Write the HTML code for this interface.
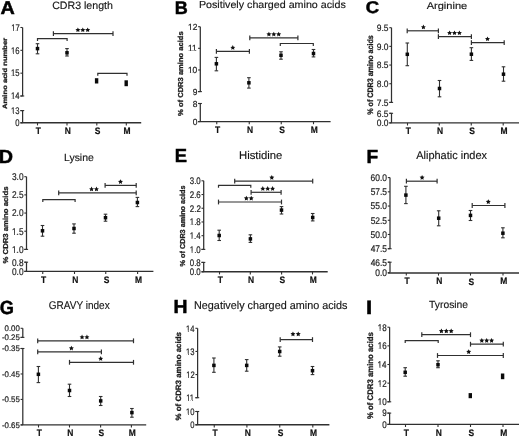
<!DOCTYPE html>
<html><head><meta charset="utf-8"><title>CDR3 amino acid composition</title>
<style>
html,body{margin:0;padding:0;background:#fff;}
body{width:520px;height:437px;overflow:hidden;}
svg{display:block;font-family:"Liberation Sans", sans-serif;text-rendering:geometricPrecision;will-change:transform;}
</style></head><body>
<svg width="520" height="437" viewBox="0 0 520 437">
<rect width="520" height="437" fill="#fff"/>
<text transform="translate(0.51 13.75) scale(1.066 1)" font-size="18.53" font-weight="bold" fill="#000" stroke="#000" stroke-width="0.5">A</text>
<text transform="translate(52.16 9.15) scale(0.987 1)" font-size="10.76" font-weight="normal" fill="#151515" stroke="#151515" stroke-width="0.15">CDR3 length</text>
<text transform="translate(6.9 108.89) rotate(-90) scale(1.227 1)" font-size="6.21" font-weight="bold" fill="#1e1e1e" stroke="#1e1e1e" stroke-width="0.3">Amino acid number</text>
<line x1="22.6" y1="27.5" x2="22.6" y2="96" stroke="#303030" stroke-width="1.25"/>
<line x1="22.6" y1="110.6" x2="22.6" y2="122.8" stroke="#303030" stroke-width="1.25"/>
<line x1="20.4" y1="96" x2="24.2" y2="96" stroke="#303030" stroke-width="1.1"/>
<line x1="20.4" y1="110.6" x2="24.2" y2="110.6" stroke="#303030" stroke-width="1.1"/>
<line x1="20.4" y1="27.5" x2="22.6" y2="27.5" stroke="#303030" stroke-width="1.1"/>
<g transform="translate(11.14 30.8) scale(0.800 1)"><text font-size="9.60" fill="#222" stroke="#222" stroke-width="0.2">17</text><g fill="#fff"><rect x="0" y="-1.06" width="2.37" height="1.76"/><rect x="3.3" y="-1.06" width="1.88" height="1.76"/></g></g>
<line x1="20.4" y1="50.33" x2="22.6" y2="50.33" stroke="#303030" stroke-width="1.1"/>
<g transform="translate(11.1 53.68) scale(0.800 1)"><text font-size="9.60" fill="#222" stroke="#222" stroke-width="0.2">16</text><g fill="#fff"><rect x="0" y="-1.06" width="2.37" height="1.76"/><rect x="3.3" y="-1.06" width="1.88" height="1.76"/></g></g>
<line x1="20.4" y1="73.17" x2="22.6" y2="73.17" stroke="#303030" stroke-width="1.1"/>
<g transform="translate(11.08 76.47) scale(0.800 1)"><text font-size="9.60" fill="#222" stroke="#222" stroke-width="0.2">15</text><g fill="#fff"><rect x="0" y="-1.06" width="2.37" height="1.76"/><rect x="3.3" y="-1.06" width="1.88" height="1.76"/></g></g>
<line x1="20.4" y1="96" x2="22.6" y2="96" stroke="#303030" stroke-width="1.1"/>
<g transform="translate(10.98 99.3) scale(0.800 1)"><text font-size="9.60" fill="#222" stroke="#222" stroke-width="0.2">14</text><g fill="#fff"><rect x="0" y="-1.06" width="2.37" height="1.76"/><rect x="3.3" y="-1.06" width="1.88" height="1.76"/></g></g>
<line x1="20.4" y1="110.6" x2="22.6" y2="110.6" stroke="#303030" stroke-width="1.1"/>
<g transform="translate(11.1 113.95) scale(0.800 1)"><text font-size="9.60" fill="#222" stroke="#222" stroke-width="0.2">13</text><g fill="#fff"><rect x="0" y="-1.06" width="2.37" height="1.76"/><rect x="3.3" y="-1.06" width="1.88" height="1.76"/></g></g>
<line x1="20.4" y1="122.8" x2="22.6" y2="122.8" stroke="#303030" stroke-width="1.1"/>
<text transform="translate(15.33 126.15) scale(0.800 1)" font-size="9.60" fill="#222" stroke="#222" stroke-width="0.2">0</text>
<line x1="20.4" y1="122.8" x2="141.2" y2="122.8" stroke="#303030" stroke-width="1.4"/>
<line x1="37.5" y1="122.8" x2="37.5" y2="125.4" stroke="#303030" stroke-width="1.1"/>
<text transform="translate(35.71 134.27) scale(0.900 1)" font-size="9.40" font-weight="bold" fill="#111" stroke="#111" stroke-width="0.2">T</text>
<line x1="67" y1="122.8" x2="67" y2="125.4" stroke="#303030" stroke-width="1.1"/>
<text transform="translate(64.75 134.27) scale(0.900 1)" font-size="9.40" font-weight="bold" fill="#111" stroke="#111" stroke-width="0.2">N</text>
<line x1="96.8" y1="122.8" x2="96.8" y2="125.4" stroke="#303030" stroke-width="1.1"/>
<text transform="translate(94.82 134.36) scale(0.900 1)" font-size="9.40" font-weight="bold" fill="#111" stroke="#111" stroke-width="0.2">S</text>
<line x1="126.3" y1="122.8" x2="126.3" y2="125.4" stroke="#303030" stroke-width="1.1"/>
<text transform="translate(123.58 134.27) scale(0.900 1)" font-size="9.40" font-weight="bold" fill="#111" stroke="#111" stroke-width="0.2">M</text>
<line x1="37.5" y1="43.7" x2="37.5" y2="53.8" stroke="#303030" stroke-width="1.1"/>
<line x1="35.7" y1="43.7" x2="39.3" y2="43.7" stroke="#303030" stroke-width="1.1"/>
<line x1="35.7" y1="53.8" x2="39.3" y2="53.8" stroke="#303030" stroke-width="1.1"/>
<rect x="35.75" y="46.85" width="3.5" height="3.5" fill="#0a0a0a"/>
<line x1="67" y1="48.6" x2="67" y2="56" stroke="#303030" stroke-width="1.1"/>
<line x1="65.2" y1="48.6" x2="68.8" y2="48.6" stroke="#303030" stroke-width="1.1"/>
<line x1="65.2" y1="56" x2="68.8" y2="56" stroke="#303030" stroke-width="1.1"/>
<rect x="65.25" y="51.05" width="3.5" height="3.5" fill="#0a0a0a"/>
<rect x="94.9" y="78.2" width="3.4" height="5.3" fill="#0a0a0a"/>
<rect x="124.5" y="80.3" width="3.4" height="5.9" fill="#0a0a0a"/>
<path d="M37.5 41V38.6H67.1V41" fill="none" stroke="#303030" stroke-width="1.2"/>
<line x1="53.4" y1="33.6" x2="113" y2="33.6" stroke="#303030" stroke-width="1.2"/>
<line x1="53.4" y1="31.2" x2="53.4" y2="36" stroke="#303030" stroke-width="1.2"/>
<line x1="113" y1="31.2" x2="113" y2="36" stroke="#303030" stroke-width="1.2"/>
<path d="M77.90,27.40 L78.66,28.94 L80.37,29.19 L79.14,30.40 L79.43,32.10 L77.90,31.30 L76.37,32.10 L76.66,30.40 L75.43,29.19 L77.14,28.94ZM82.80,27.40 L83.56,28.94 L85.27,29.19 L84.04,30.40 L84.33,32.10 L82.80,31.30 L81.27,32.10 L81.56,30.40 L80.33,29.19 L82.04,28.94ZM87.70,27.40 L88.46,28.94 L90.17,29.19 L88.94,30.40 L89.23,32.10 L87.70,31.30 L86.17,32.10 L86.46,30.40 L85.23,29.19 L86.94,28.94Z" fill="#111"/>
<path d="M97.8 75.8V73.4H127V75.8" fill="none" stroke="#303030" stroke-width="1.2"/>
<text transform="translate(174.79 13.75) scale(0.993 1)" font-size="18.17" font-weight="bold" fill="#000" stroke="#000" stroke-width="0.5">B</text>
<text transform="translate(198.92 8.4) scale(1.048 1)" font-size="10.21" font-weight="normal" fill="#151515" stroke="#151515" stroke-width="0.15">Positively charged amino acids</text>
<text transform="translate(183.2 115.89) rotate(-90) scale(1.055 1)" font-size="7.18" font-weight="bold" fill="#1e1e1e" stroke="#1e1e1e" stroke-width="0.3">% of CDR3 amino acids</text>
<line x1="200.3" y1="26.7" x2="200.3" y2="91.6" stroke="#303030" stroke-width="1.25"/>
<line x1="200.3" y1="103.5" x2="200.3" y2="121.6" stroke="#303030" stroke-width="1.25"/>
<line x1="198.1" y1="91.6" x2="201.9" y2="91.6" stroke="#303030" stroke-width="1.1"/>
<line x1="198.1" y1="103.5" x2="201.9" y2="103.5" stroke="#303030" stroke-width="1.1"/>
<line x1="198.1" y1="26.7" x2="200.3" y2="26.7" stroke="#303030" stroke-width="1.1"/>
<g transform="translate(188.02 29.81) scale(0.950 1)"><text font-size="8.90" fill="#222" stroke="#222" stroke-width="0.2">12</text><g fill="#fff"><rect x="0" y="-1" width="2.2" height="1.7"/><rect x="3.06" y="-1" width="1.74" height="1.7"/></g></g>
<line x1="198.1" y1="48.33" x2="200.3" y2="48.33" stroke="#303030" stroke-width="1.1"/>
<g transform="translate(188.01 51.39) scale(0.950 1)"><text font-size="8.90" fill="#222" stroke="#222" stroke-width="0.2">11</text><g fill="#fff"><rect x="0" y="-1" width="2.2" height="1.7"/><rect x="3.06" y="-1" width="1.74" height="1.7"/><rect x="4.95" y="-1" width="2.2" height="1.7"/><rect x="8.01" y="-1" width="1.74" height="1.7"/></g></g>
<line x1="198.1" y1="69.97" x2="200.3" y2="69.97" stroke="#303030" stroke-width="1.1"/>
<g transform="translate(187.93 73.07) scale(0.950 1)"><text font-size="8.90" fill="#222" stroke="#222" stroke-width="0.2">10</text><g fill="#fff"><rect x="0" y="-1" width="2.2" height="1.7"/><rect x="3.06" y="-1" width="1.74" height="1.7"/></g></g>
<line x1="198.1" y1="91.6" x2="200.3" y2="91.6" stroke="#303030" stroke-width="1.1"/>
<text transform="translate(192.7 94.71) scale(0.950 1)" font-size="8.90" fill="#222" stroke="#222" stroke-width="0.2">9</text>
<line x1="198.1" y1="103.5" x2="200.3" y2="103.5" stroke="#303030" stroke-width="1.1"/>
<text transform="translate(192.67 106.61) scale(0.950 1)" font-size="8.90" fill="#222" stroke="#222" stroke-width="0.2">8</text>
<line x1="198.1" y1="121.6" x2="200.3" y2="121.6" stroke="#303030" stroke-width="1.1"/>
<text transform="translate(192.63 124.71) scale(0.950 1)" font-size="8.90" fill="#222" stroke="#222" stroke-width="0.2">0</text>
<line x1="198.1" y1="121.6" x2="330.6" y2="121.6" stroke="#303030" stroke-width="1.4"/>
<line x1="216.75" y1="121.6" x2="216.75" y2="124.2" stroke="#303030" stroke-width="1.1"/>
<text transform="translate(214.96 133.07) scale(0.900 1)" font-size="9.40" font-weight="bold" fill="#111" stroke="#111" stroke-width="0.2">T</text>
<line x1="249.25" y1="121.6" x2="249.25" y2="124.2" stroke="#303030" stroke-width="1.1"/>
<text transform="translate(247 133.07) scale(0.900 1)" font-size="9.40" font-weight="bold" fill="#111" stroke="#111" stroke-width="0.2">N</text>
<line x1="281.25" y1="121.6" x2="281.25" y2="124.2" stroke="#303030" stroke-width="1.1"/>
<text transform="translate(279.27 133.16) scale(0.900 1)" font-size="9.40" font-weight="bold" fill="#111" stroke="#111" stroke-width="0.2">S</text>
<line x1="313.5" y1="121.6" x2="313.5" y2="124.2" stroke="#303030" stroke-width="1.1"/>
<text transform="translate(310.78 133.07) scale(0.900 1)" font-size="9.40" font-weight="bold" fill="#111" stroke="#111" stroke-width="0.2">M</text>
<line x1="216.4" y1="57.4" x2="216.4" y2="70.8" stroke="#303030" stroke-width="1.1"/>
<line x1="214.6" y1="57.4" x2="218.2" y2="57.4" stroke="#303030" stroke-width="1.1"/>
<line x1="214.6" y1="70.8" x2="218.2" y2="70.8" stroke="#303030" stroke-width="1.1"/>
<rect x="214.65" y="62.05" width="3.5" height="3.5" fill="#0a0a0a"/>
<line x1="248.9" y1="77.7" x2="248.9" y2="88.1" stroke="#303030" stroke-width="1.1"/>
<line x1="247.1" y1="77.7" x2="250.7" y2="77.7" stroke="#303030" stroke-width="1.1"/>
<line x1="247.1" y1="88.1" x2="250.7" y2="88.1" stroke="#303030" stroke-width="1.1"/>
<rect x="247.15" y="81.05" width="3.5" height="3.5" fill="#0a0a0a"/>
<line x1="281" y1="51.8" x2="281" y2="59.2" stroke="#303030" stroke-width="1.1"/>
<line x1="279.2" y1="51.8" x2="282.8" y2="51.8" stroke="#303030" stroke-width="1.1"/>
<line x1="279.2" y1="59.2" x2="282.8" y2="59.2" stroke="#303030" stroke-width="1.1"/>
<rect x="279.25" y="53.55" width="3.5" height="3.5" fill="#0a0a0a"/>
<line x1="313.5" y1="49.5" x2="313.5" y2="56.9" stroke="#303030" stroke-width="1.1"/>
<line x1="311.7" y1="49.5" x2="315.3" y2="49.5" stroke="#303030" stroke-width="1.1"/>
<line x1="311.7" y1="56.9" x2="315.3" y2="56.9" stroke="#303030" stroke-width="1.1"/>
<rect x="311.75" y="51.75" width="3.5" height="3.5" fill="#0a0a0a"/>
<line x1="216.4" y1="51.3" x2="249.4" y2="51.3" stroke="#303030" stroke-width="1.2"/>
<line x1="216.4" y1="48.9" x2="216.4" y2="53.7" stroke="#303030" stroke-width="1.2"/>
<line x1="249.4" y1="48.9" x2="249.4" y2="53.7" stroke="#303030" stroke-width="1.2"/>
<path d="M232.80,45.10 L233.56,46.64 L235.27,46.89 L234.04,48.10 L234.33,49.80 L232.80,49.00 L231.27,49.80 L231.56,48.10 L230.33,46.89 L232.04,46.64Z" fill="#111"/>
<line x1="249.8" y1="37.9" x2="297.9" y2="37.9" stroke="#303030" stroke-width="1.2"/>
<line x1="249.8" y1="35.5" x2="249.8" y2="40.3" stroke="#303030" stroke-width="1.2"/>
<line x1="297.9" y1="35.5" x2="297.9" y2="40.3" stroke="#303030" stroke-width="1.2"/>
<path d="M268.90,31.70 L269.66,33.24 L271.37,33.49 L270.14,34.70 L270.43,36.40 L268.90,35.60 L267.37,36.40 L267.66,34.70 L266.43,33.49 L268.14,33.24ZM273.80,31.70 L274.56,33.24 L276.27,33.49 L275.04,34.70 L275.33,36.40 L273.80,35.60 L272.27,36.40 L272.56,34.70 L271.33,33.49 L273.04,33.24ZM278.70,31.70 L279.46,33.24 L281.17,33.49 L279.94,34.70 L280.23,36.40 L278.70,35.60 L277.17,36.40 L277.46,34.70 L276.23,33.49 L277.94,33.24Z" fill="#111"/>
<path d="M280.3 45.9V43.5H313.3V45.9" fill="none" stroke="#303030" stroke-width="1.2"/>
<text transform="translate(365.84 13.43) scale(1.092 1)" font-size="16.95" font-weight="bold" fill="#000" stroke="#000" stroke-width="0.5">C</text>
<text transform="translate(426.68 9.2) scale(1.127 1)" font-size="9.80" font-weight="normal" fill="#151515" stroke="#151515" stroke-width="0.15">Arginine</text>
<text transform="translate(372.7 114.78) rotate(-90) scale(0.891 1)" font-size="8.00" font-weight="bold" fill="#1e1e1e" stroke="#1e1e1e" stroke-width="0.3">% of CDR3 amino acids</text>
<line x1="391.5" y1="27.7" x2="391.5" y2="102.4" stroke="#303030" stroke-width="1.25"/>
<line x1="391.5" y1="113.3" x2="391.5" y2="122.9" stroke="#303030" stroke-width="1.25"/>
<line x1="389.3" y1="102.4" x2="393.1" y2="102.4" stroke="#303030" stroke-width="1.1"/>
<line x1="389.3" y1="113.3" x2="393.1" y2="113.3" stroke="#303030" stroke-width="1.1"/>
<line x1="389.3" y1="27.7" x2="391.5" y2="27.7" stroke="#303030" stroke-width="1.1"/>
<text transform="translate(376.79 30.91) scale(0.920 1)" font-size="9.20" fill="#222" stroke="#222" stroke-width="0.2">9.5</text>
<line x1="389.3" y1="46.38" x2="391.5" y2="46.38" stroke="#303030" stroke-width="1.1"/>
<text transform="translate(376.76 49.59) scale(0.920 1)" font-size="9.20" fill="#222" stroke="#222" stroke-width="0.2">9.0</text>
<line x1="389.3" y1="65.05" x2="391.5" y2="65.05" stroke="#303030" stroke-width="1.1"/>
<text transform="translate(376.79 68.26) scale(0.920 1)" font-size="9.20" fill="#222" stroke="#222" stroke-width="0.2">8.5</text>
<line x1="389.3" y1="83.73" x2="391.5" y2="83.73" stroke="#303030" stroke-width="1.1"/>
<text transform="translate(376.76 86.94) scale(0.920 1)" font-size="9.20" fill="#222" stroke="#222" stroke-width="0.2">8.0</text>
<line x1="389.3" y1="102.4" x2="391.5" y2="102.4" stroke="#303030" stroke-width="1.1"/>
<text transform="translate(376.79 105.56) scale(0.920 1)" font-size="9.20" fill="#222" stroke="#222" stroke-width="0.2">7.5</text>
<line x1="389.3" y1="113.3" x2="391.5" y2="113.3" stroke="#303030" stroke-width="1.1"/>
<text transform="translate(376.79 116.51) scale(0.920 1)" font-size="9.20" fill="#222" stroke="#222" stroke-width="0.2">6.5</text>
<line x1="389.3" y1="122.9" x2="391.5" y2="122.9" stroke="#303030" stroke-width="1.1"/>
<text transform="translate(376.76 126.11) scale(0.920 1)" font-size="9.20" fill="#222" stroke="#222" stroke-width="0.2">0.0</text>
<line x1="389.3" y1="122.9" x2="519" y2="122.9" stroke="#303030" stroke-width="1.4"/>
<line x1="407.5" y1="122.9" x2="407.5" y2="125.5" stroke="#303030" stroke-width="1.1"/>
<text transform="translate(405.71 134.37) scale(0.900 1)" font-size="9.40" font-weight="bold" fill="#111" stroke="#111" stroke-width="0.2">T</text>
<line x1="439.25" y1="122.9" x2="439.25" y2="125.5" stroke="#303030" stroke-width="1.1"/>
<text transform="translate(437 134.37) scale(0.900 1)" font-size="9.40" font-weight="bold" fill="#111" stroke="#111" stroke-width="0.2">N</text>
<line x1="471.25" y1="122.9" x2="471.25" y2="125.5" stroke="#303030" stroke-width="1.1"/>
<text transform="translate(469.27 134.46) scale(0.900 1)" font-size="9.40" font-weight="bold" fill="#111" stroke="#111" stroke-width="0.2">S</text>
<line x1="503.2" y1="122.9" x2="503.2" y2="125.5" stroke="#303030" stroke-width="1.1"/>
<text transform="translate(500.48 134.37) scale(0.900 1)" font-size="9.40" font-weight="bold" fill="#111" stroke="#111" stroke-width="0.2">M</text>
<line x1="407.3" y1="43" x2="407.3" y2="65.7" stroke="#303030" stroke-width="1.1"/>
<line x1="405.5" y1="43" x2="409.1" y2="43" stroke="#303030" stroke-width="1.1"/>
<line x1="405.5" y1="65.7" x2="409.1" y2="65.7" stroke="#303030" stroke-width="1.1"/>
<rect x="405.55" y="52.55" width="3.5" height="3.5" fill="#0a0a0a"/>
<line x1="439.5" y1="80.5" x2="439.5" y2="96.8" stroke="#303030" stroke-width="1.1"/>
<line x1="437.7" y1="80.5" x2="441.3" y2="80.5" stroke="#303030" stroke-width="1.1"/>
<line x1="437.7" y1="96.8" x2="441.3" y2="96.8" stroke="#303030" stroke-width="1.1"/>
<rect x="437.75" y="86.75" width="3.5" height="3.5" fill="#0a0a0a"/>
<line x1="471.4" y1="47.7" x2="471.4" y2="60.4" stroke="#303030" stroke-width="1.1"/>
<line x1="469.6" y1="47.7" x2="473.2" y2="47.7" stroke="#303030" stroke-width="1.1"/>
<line x1="469.6" y1="60.4" x2="473.2" y2="60.4" stroke="#303030" stroke-width="1.1"/>
<rect x="469.65" y="52.45" width="3.5" height="3.5" fill="#0a0a0a"/>
<line x1="503.5" y1="66.8" x2="503.5" y2="81.2" stroke="#303030" stroke-width="1.1"/>
<line x1="501.7" y1="66.8" x2="505.3" y2="66.8" stroke="#303030" stroke-width="1.1"/>
<line x1="501.7" y1="81.2" x2="505.3" y2="81.2" stroke="#303030" stroke-width="1.1"/>
<rect x="501.75" y="72.45" width="3.5" height="3.5" fill="#0a0a0a"/>
<line x1="407.2" y1="30.8" x2="438.4" y2="30.8" stroke="#303030" stroke-width="1.2"/>
<line x1="407.2" y1="28.4" x2="407.2" y2="33.2" stroke="#303030" stroke-width="1.2"/>
<line x1="438.4" y1="28.4" x2="438.4" y2="33.2" stroke="#303030" stroke-width="1.2"/>
<path d="M423.40,24.60 L424.16,26.14 L425.87,26.39 L424.64,27.60 L424.93,29.30 L423.40,28.50 L421.87,29.30 L422.16,27.60 L420.93,26.39 L422.64,26.14Z" fill="#111"/>
<line x1="438.4" y1="36.6" x2="471.4" y2="36.6" stroke="#303030" stroke-width="1.2"/>
<line x1="438.4" y1="34.2" x2="438.4" y2="39" stroke="#303030" stroke-width="1.2"/>
<line x1="471.4" y1="34.2" x2="471.4" y2="39" stroke="#303030" stroke-width="1.2"/>
<path d="M449.60,30.40 L450.36,31.94 L452.07,32.19 L450.84,33.40 L451.13,35.10 L449.60,34.30 L448.07,35.10 L448.36,33.40 L447.13,32.19 L448.84,31.94ZM454.50,30.40 L455.26,31.94 L456.97,32.19 L455.74,33.40 L456.03,35.10 L454.50,34.30 L452.97,35.10 L453.26,33.40 L452.03,32.19 L453.74,31.94ZM459.40,30.40 L460.16,31.94 L461.87,32.19 L460.64,33.40 L460.93,35.10 L459.40,34.30 L457.87,35.10 L458.16,33.40 L456.93,32.19 L458.64,31.94Z" fill="#111"/>
<line x1="471.4" y1="42.6" x2="504.2" y2="42.6" stroke="#303030" stroke-width="1.2"/>
<line x1="471.4" y1="40.2" x2="471.4" y2="45" stroke="#303030" stroke-width="1.2"/>
<line x1="504.2" y1="40.2" x2="504.2" y2="45" stroke="#303030" stroke-width="1.2"/>
<path d="M487.50,36.40 L488.26,37.94 L489.97,38.19 L488.74,39.40 L489.03,41.10 L487.50,40.30 L485.97,41.10 L486.26,39.40 L485.03,38.19 L486.74,37.94Z" fill="#111"/>
<text transform="translate(-1.32 163) scale(1.044 1)" font-size="18.90" font-weight="bold" fill="#000" stroke="#000" stroke-width="0.5">D</text>
<text transform="translate(63.94 160.7) scale(1.014 1)" font-size="10.35" font-weight="normal" fill="#151515" stroke="#151515" stroke-width="0.15">Lysine</text>
<text transform="translate(7.6 263.39) rotate(-90) scale(1.077 1)" font-size="7.18" font-weight="bold" fill="#1e1e1e" stroke="#1e1e1e" stroke-width="0.3">% CDR3 amino acids</text>
<line x1="26.5" y1="176.7" x2="26.5" y2="249.4" stroke="#303030" stroke-width="1.25"/>
<line x1="26.5" y1="262.2" x2="26.5" y2="271.4" stroke="#303030" stroke-width="1.25"/>
<line x1="24.3" y1="249.4" x2="28.1" y2="249.4" stroke="#303030" stroke-width="1.1"/>
<line x1="24.3" y1="262.2" x2="28.1" y2="262.2" stroke="#303030" stroke-width="1.1"/>
<line x1="24.3" y1="176.7" x2="26.5" y2="176.7" stroke="#303030" stroke-width="1.1"/>
<text transform="translate(11.95 180.12) scale(0.850 1)" font-size="9.80" fill="#222" stroke="#222" stroke-width="0.2">3.0</text>
<line x1="24.3" y1="194.88" x2="26.5" y2="194.88" stroke="#303030" stroke-width="1.1"/>
<text transform="translate(11.97 198.3) scale(0.850 1)" font-size="9.80" fill="#222" stroke="#222" stroke-width="0.2">2.5</text>
<line x1="24.3" y1="213.05" x2="26.5" y2="213.05" stroke="#303030" stroke-width="1.1"/>
<text transform="translate(11.95 216.47) scale(0.850 1)" font-size="9.80" fill="#222" stroke="#222" stroke-width="0.2">2.0</text>
<line x1="24.3" y1="231.22" x2="26.5" y2="231.22" stroke="#303030" stroke-width="1.1"/>
<g transform="translate(11.97 234.6) scale(0.850 1)"><text font-size="9.80" fill="#222" stroke="#222" stroke-width="0.2">1.5</text><g fill="#fff"><rect x="0" y="-1.08" width="2.42" height="1.78"/><rect x="3.37" y="-1.08" width="1.92" height="1.78"/></g></g>
<line x1="24.3" y1="249.4" x2="26.5" y2="249.4" stroke="#303030" stroke-width="1.1"/>
<g transform="translate(11.95 252.82) scale(0.850 1)"><text font-size="9.80" fill="#222" stroke="#222" stroke-width="0.2">1.0</text><g fill="#fff"><rect x="0" y="-1.08" width="2.42" height="1.78"/><rect x="3.37" y="-1.08" width="1.92" height="1.78"/></g></g>
<line x1="24.3" y1="262.2" x2="26.5" y2="262.2" stroke="#303030" stroke-width="1.1"/>
<text transform="translate(11.98 265.62) scale(0.850 1)" font-size="9.80" fill="#222" stroke="#222" stroke-width="0.2">0.8</text>
<line x1="24.3" y1="271.4" x2="26.5" y2="271.4" stroke="#303030" stroke-width="1.1"/>
<text transform="translate(11.95 274.82) scale(0.850 1)" font-size="9.80" fill="#222" stroke="#222" stroke-width="0.2">0.0</text>
<line x1="24.3" y1="271.4" x2="153.4" y2="271.4" stroke="#303030" stroke-width="1.4"/>
<line x1="42.75" y1="271.4" x2="42.75" y2="274" stroke="#303030" stroke-width="1.1"/>
<text transform="translate(40.96 282.87) scale(0.900 1)" font-size="9.40" font-weight="bold" fill="#111" stroke="#111" stroke-width="0.2">T</text>
<line x1="74.5" y1="271.4" x2="74.5" y2="274" stroke="#303030" stroke-width="1.1"/>
<text transform="translate(72.25 282.87) scale(0.900 1)" font-size="9.40" font-weight="bold" fill="#111" stroke="#111" stroke-width="0.2">N</text>
<line x1="105.75" y1="271.4" x2="105.75" y2="274" stroke="#303030" stroke-width="1.1"/>
<text transform="translate(103.77 282.96) scale(0.900 1)" font-size="9.40" font-weight="bold" fill="#111" stroke="#111" stroke-width="0.2">S</text>
<line x1="137.6" y1="271.4" x2="137.6" y2="274" stroke="#303030" stroke-width="1.1"/>
<text transform="translate(134.88 282.87) scale(0.900 1)" font-size="9.40" font-weight="bold" fill="#111" stroke="#111" stroke-width="0.2">M</text>
<line x1="42.5" y1="225.5" x2="42.5" y2="236.2" stroke="#303030" stroke-width="1.1"/>
<line x1="40.7" y1="225.5" x2="44.3" y2="225.5" stroke="#303030" stroke-width="1.1"/>
<line x1="40.7" y1="236.2" x2="44.3" y2="236.2" stroke="#303030" stroke-width="1.1"/>
<rect x="40.75" y="229.05" width="3.5" height="3.5" fill="#0a0a0a"/>
<line x1="74" y1="223.9" x2="74" y2="233.2" stroke="#303030" stroke-width="1.1"/>
<line x1="72.2" y1="223.9" x2="75.8" y2="223.9" stroke="#303030" stroke-width="1.1"/>
<line x1="72.2" y1="233.2" x2="75.8" y2="233.2" stroke="#303030" stroke-width="1.1"/>
<rect x="72.25" y="226.75" width="3.5" height="3.5" fill="#0a0a0a"/>
<line x1="105.5" y1="214.2" x2="105.5" y2="221.2" stroke="#303030" stroke-width="1.1"/>
<line x1="103.7" y1="214.2" x2="107.3" y2="214.2" stroke="#303030" stroke-width="1.1"/>
<line x1="103.7" y1="221.2" x2="107.3" y2="221.2" stroke="#303030" stroke-width="1.1"/>
<rect x="103.75" y="215.95" width="3.5" height="3.5" fill="#0a0a0a"/>
<line x1="137.4" y1="197.4" x2="137.4" y2="206.6" stroke="#303030" stroke-width="1.1"/>
<line x1="135.6" y1="197.4" x2="139.2" y2="197.4" stroke="#303030" stroke-width="1.1"/>
<line x1="135.6" y1="206.6" x2="139.2" y2="206.6" stroke="#303030" stroke-width="1.1"/>
<rect x="135.65" y="200.75" width="3.5" height="3.5" fill="#0a0a0a"/>
<path d="M42.8 202.1V199.7H75.1V202.1" fill="none" stroke="#303030" stroke-width="1.2"/>
<line x1="58.7" y1="192.8" x2="136.2" y2="192.8" stroke="#303030" stroke-width="1.2"/>
<line x1="58.7" y1="190.4" x2="58.7" y2="195.2" stroke="#303030" stroke-width="1.2"/>
<line x1="136.2" y1="190.4" x2="136.2" y2="195.2" stroke="#303030" stroke-width="1.2"/>
<path d="M91.55,186.60 L92.31,188.14 L94.02,188.39 L92.79,189.60 L93.08,191.30 L91.55,190.50 L90.02,191.30 L90.31,189.60 L89.08,188.39 L90.79,188.14ZM96.45,186.60 L97.21,188.14 L98.92,188.39 L97.69,189.60 L97.98,191.30 L96.45,190.50 L94.92,191.30 L95.21,189.60 L93.98,188.39 L95.69,188.14Z" fill="#111"/>
<line x1="105.1" y1="185.4" x2="136.2" y2="185.4" stroke="#303030" stroke-width="1.2"/>
<line x1="105.1" y1="183" x2="105.1" y2="187.8" stroke="#303030" stroke-width="1.2"/>
<line x1="136.2" y1="183" x2="136.2" y2="187.8" stroke="#303030" stroke-width="1.2"/>
<path d="M120.50,179.20 L121.26,180.74 L122.97,180.99 L121.74,182.20 L122.03,183.90 L120.50,183.10 L118.97,183.90 L119.26,182.20 L118.03,180.99 L119.74,180.74Z" fill="#111"/>
<text transform="translate(174.67 162.2) scale(0.972 1)" font-size="18.90" font-weight="bold" fill="#000" stroke="#000" stroke-width="0.5">E</text>
<text transform="translate(238.97 158.8) scale(1.013 1)" font-size="11.18" font-weight="normal" fill="#151515" stroke="#151515" stroke-width="0.15">Histidine</text>
<text transform="translate(185.4 266.38) rotate(-90) scale(1.010 1)" font-size="7.18" font-weight="bold" fill="#1e1e1e" stroke="#1e1e1e" stroke-width="0.3">% of CDR3 amino acids</text>
<line x1="203.7" y1="180.8" x2="203.7" y2="249.4" stroke="#303030" stroke-width="1.25"/>
<line x1="203.7" y1="262.4" x2="203.7" y2="271.8" stroke="#303030" stroke-width="1.25"/>
<line x1="201.5" y1="249.4" x2="205.3" y2="249.4" stroke="#303030" stroke-width="1.1"/>
<line x1="201.5" y1="262.4" x2="205.3" y2="262.4" stroke="#303030" stroke-width="1.1"/>
<line x1="201.5" y1="180.8" x2="203.7" y2="180.8" stroke="#303030" stroke-width="1.1"/>
<text transform="translate(189.75 184.12) scale(0.830 1)" font-size="9.50" fill="#222" stroke="#222" stroke-width="0.2">3.0</text>
<line x1="201.5" y1="194.52" x2="203.7" y2="194.52" stroke="#303030" stroke-width="1.1"/>
<text transform="translate(189.79 197.84) scale(0.830 1)" font-size="9.50" fill="#222" stroke="#222" stroke-width="0.2">2.6</text>
<line x1="201.5" y1="208.24" x2="203.7" y2="208.24" stroke="#303030" stroke-width="1.1"/>
<text transform="translate(189.84 211.56) scale(0.830 1)" font-size="9.50" fill="#222" stroke="#222" stroke-width="0.2">2.2</text>
<line x1="201.5" y1="221.96" x2="203.7" y2="221.96" stroke="#303030" stroke-width="1.1"/>
<g transform="translate(189.78 225.28) scale(0.830 1)"><text font-size="9.50" fill="#222" stroke="#222" stroke-width="0.2">1.8</text><g fill="#fff"><rect x="0" y="-1.05" width="2.35" height="1.75"/><rect x="3.27" y="-1.05" width="1.86" height="1.75"/></g></g>
<line x1="201.5" y1="235.68" x2="203.7" y2="235.68" stroke="#303030" stroke-width="1.1"/>
<g transform="translate(189.67 238.95) scale(0.830 1)"><text font-size="9.50" fill="#222" stroke="#222" stroke-width="0.2">1.4</text><g fill="#fff"><rect x="0" y="-1.05" width="2.35" height="1.75"/><rect x="3.27" y="-1.05" width="1.86" height="1.75"/></g></g>
<line x1="201.5" y1="249.4" x2="203.7" y2="249.4" stroke="#303030" stroke-width="1.1"/>
<g transform="translate(189.75 252.72) scale(0.830 1)"><text font-size="9.50" fill="#222" stroke="#222" stroke-width="0.2">1.0</text><g fill="#fff"><rect x="0" y="-1.05" width="2.35" height="1.75"/><rect x="3.27" y="-1.05" width="1.86" height="1.75"/></g></g>
<line x1="201.5" y1="262.4" x2="203.7" y2="262.4" stroke="#303030" stroke-width="1.1"/>
<text transform="translate(189.78 265.72) scale(0.830 1)" font-size="9.50" fill="#222" stroke="#222" stroke-width="0.2">0.8</text>
<line x1="201.5" y1="271.8" x2="203.7" y2="271.8" stroke="#303030" stroke-width="1.1"/>
<text transform="translate(189.75 275.12) scale(0.830 1)" font-size="9.50" fill="#222" stroke="#222" stroke-width="0.2">0.0</text>
<line x1="201.5" y1="271.8" x2="327.7" y2="271.8" stroke="#303030" stroke-width="1.4"/>
<line x1="219.5" y1="271.8" x2="219.5" y2="274.4" stroke="#303030" stroke-width="1.1"/>
<text transform="translate(217.71 283.27) scale(0.900 1)" font-size="9.40" font-weight="bold" fill="#111" stroke="#111" stroke-width="0.2">T</text>
<line x1="250.3" y1="271.8" x2="250.3" y2="274.4" stroke="#303030" stroke-width="1.1"/>
<text transform="translate(248.05 283.27) scale(0.900 1)" font-size="9.40" font-weight="bold" fill="#111" stroke="#111" stroke-width="0.2">N</text>
<line x1="281.6" y1="271.8" x2="281.6" y2="274.4" stroke="#303030" stroke-width="1.1"/>
<text transform="translate(279.62 283.36) scale(0.900 1)" font-size="9.40" font-weight="bold" fill="#111" stroke="#111" stroke-width="0.2">S</text>
<line x1="312.5" y1="271.8" x2="312.5" y2="274.4" stroke="#303030" stroke-width="1.1"/>
<text transform="translate(309.78 283.27) scale(0.900 1)" font-size="9.40" font-weight="bold" fill="#111" stroke="#111" stroke-width="0.2">M</text>
<line x1="219.2" y1="230.2" x2="219.2" y2="240.5" stroke="#303030" stroke-width="1.1"/>
<line x1="217.4" y1="230.2" x2="221" y2="230.2" stroke="#303030" stroke-width="1.1"/>
<line x1="217.4" y1="240.5" x2="221" y2="240.5" stroke="#303030" stroke-width="1.1"/>
<rect x="217.45" y="233.75" width="3.5" height="3.5" fill="#0a0a0a"/>
<line x1="250.4" y1="234.8" x2="250.4" y2="242.4" stroke="#303030" stroke-width="1.1"/>
<line x1="248.6" y1="234.8" x2="252.2" y2="234.8" stroke="#303030" stroke-width="1.1"/>
<line x1="248.6" y1="242.4" x2="252.2" y2="242.4" stroke="#303030" stroke-width="1.1"/>
<rect x="248.65" y="237.15" width="3.5" height="3.5" fill="#0a0a0a"/>
<line x1="281.5" y1="206.6" x2="281.5" y2="214" stroke="#303030" stroke-width="1.1"/>
<line x1="279.7" y1="206.6" x2="283.3" y2="206.6" stroke="#303030" stroke-width="1.1"/>
<line x1="279.7" y1="214" x2="283.3" y2="214" stroke="#303030" stroke-width="1.1"/>
<rect x="279.75" y="208.35" width="3.5" height="3.5" fill="#0a0a0a"/>
<line x1="312.7" y1="213.5" x2="312.7" y2="220.9" stroke="#303030" stroke-width="1.1"/>
<line x1="310.9" y1="213.5" x2="314.5" y2="213.5" stroke="#303030" stroke-width="1.1"/>
<line x1="310.9" y1="220.9" x2="314.5" y2="220.9" stroke="#303030" stroke-width="1.1"/>
<rect x="310.95" y="215.75" width="3.5" height="3.5" fill="#0a0a0a"/>
<path d="M218.5 187.8V185.4H250.8V187.8" fill="none" stroke="#303030" stroke-width="1.2"/>
<line x1="234.7" y1="181.2" x2="312.7" y2="181.2" stroke="#303030" stroke-width="1.2"/>
<line x1="234.7" y1="178.8" x2="234.7" y2="183.6" stroke="#303030" stroke-width="1.2"/>
<line x1="312.7" y1="178.8" x2="312.7" y2="183.6" stroke="#303030" stroke-width="1.2"/>
<path d="M271.80,175.00 L272.56,176.54 L274.27,176.79 L273.04,178.00 L273.33,179.70 L271.80,178.90 L270.27,179.70 L270.56,178.00 L269.33,176.79 L271.04,176.54Z" fill="#111"/>
<line x1="251.1" y1="192.3" x2="281.1" y2="192.3" stroke="#303030" stroke-width="1.2"/>
<line x1="251.1" y1="189.9" x2="251.1" y2="194.7" stroke="#303030" stroke-width="1.2"/>
<line x1="281.1" y1="189.9" x2="281.1" y2="194.7" stroke="#303030" stroke-width="1.2"/>
<path d="M262.80,186.10 L263.56,187.64 L265.27,187.89 L264.04,189.10 L264.33,190.80 L262.80,190.00 L261.27,190.80 L261.56,189.10 L260.33,187.89 L262.04,187.64ZM267.70,186.10 L268.46,187.64 L270.17,187.89 L268.94,189.10 L269.23,190.80 L267.70,190.00 L266.17,190.80 L266.46,189.10 L265.23,187.89 L266.94,187.64ZM272.60,186.10 L273.36,187.64 L275.07,187.89 L273.84,189.10 L274.13,190.80 L272.60,190.00 L271.07,190.80 L271.36,189.10 L270.13,187.89 L271.84,187.64Z" fill="#111"/>
<line x1="218.5" y1="202" x2="281.5" y2="202" stroke="#303030" stroke-width="1.2"/>
<line x1="218.5" y1="199.6" x2="218.5" y2="204.4" stroke="#303030" stroke-width="1.2"/>
<line x1="281.5" y1="199.6" x2="281.5" y2="204.4" stroke="#303030" stroke-width="1.2"/>
<path d="M246.35,195.80 L247.11,197.34 L248.82,197.59 L247.59,198.80 L247.88,200.50 L246.35,199.70 L244.82,200.50 L245.11,198.80 L243.88,197.59 L245.59,197.34ZM251.25,195.80 L252.01,197.34 L253.72,197.59 L252.49,198.80 L252.78,200.50 L251.25,199.70 L249.72,200.50 L250.01,198.80 L248.78,197.59 L250.49,197.34Z" fill="#111"/>
<text transform="translate(366.42 163.2) scale(1.004 1)" font-size="19.04" font-weight="bold" fill="#000" stroke="#000" stroke-width="0.5">F</text>
<text transform="translate(416.18 158.5) scale(0.971 1)" font-size="11.32" font-weight="normal" fill="#151515" stroke="#151515" stroke-width="0.15">Aliphatic index</text>
<line x1="390" y1="177.6" x2="390" y2="248.7" stroke="#303030" stroke-width="1.25"/>
<line x1="390" y1="262.2" x2="390" y2="272.6" stroke="#303030" stroke-width="1.25"/>
<line x1="387.8" y1="248.7" x2="391.6" y2="248.7" stroke="#303030" stroke-width="1.1"/>
<line x1="387.8" y1="262.2" x2="391.6" y2="262.2" stroke="#303030" stroke-width="1.1"/>
<line x1="387.8" y1="177.6" x2="390" y2="177.6" stroke="#303030" stroke-width="1.1"/>
<text transform="translate(370.6 180.99) scale(0.870 1)" font-size="9.70" fill="#222" stroke="#222" stroke-width="0.2">60.0</text>
<line x1="387.8" y1="191.82" x2="390" y2="191.82" stroke="#303030" stroke-width="1.1"/>
<text transform="translate(370.63 195.16) scale(0.870 1)" font-size="9.70" fill="#222" stroke="#222" stroke-width="0.2">57.5</text>
<line x1="387.8" y1="206.04" x2="390" y2="206.04" stroke="#303030" stroke-width="1.1"/>
<text transform="translate(370.6 209.43) scale(0.870 1)" font-size="9.70" fill="#222" stroke="#222" stroke-width="0.2">55.0</text>
<line x1="387.8" y1="220.26" x2="390" y2="220.26" stroke="#303030" stroke-width="1.1"/>
<text transform="translate(370.63 223.65) scale(0.870 1)" font-size="9.70" fill="#222" stroke="#222" stroke-width="0.2">52.5</text>
<line x1="387.8" y1="234.48" x2="390" y2="234.48" stroke="#303030" stroke-width="1.1"/>
<text transform="translate(370.6 237.87) scale(0.870 1)" font-size="9.70" fill="#222" stroke="#222" stroke-width="0.2">50.0</text>
<line x1="387.8" y1="248.7" x2="390" y2="248.7" stroke="#303030" stroke-width="1.1"/>
<text transform="translate(370.63 252.04) scale(0.870 1)" font-size="9.70" fill="#222" stroke="#222" stroke-width="0.2">47.5</text>
<line x1="387.8" y1="262.2" x2="390" y2="262.2" stroke="#303030" stroke-width="1.1"/>
<text transform="translate(370.63 265.59) scale(0.870 1)" font-size="9.70" fill="#222" stroke="#222" stroke-width="0.2">46.5</text>
<line x1="387.8" y1="272.6" x2="390" y2="272.6" stroke="#303030" stroke-width="1.1"/>
<text transform="translate(375.3 275.99) scale(0.870 1)" font-size="9.70" fill="#222" stroke="#222" stroke-width="0.2">0.0</text>
<line x1="387.8" y1="273" x2="519" y2="273" stroke="#303030" stroke-width="1.4"/>
<line x1="406.3" y1="273" x2="406.3" y2="275.6" stroke="#303030" stroke-width="1.1"/>
<text transform="translate(404.51 284.47) scale(0.900 1)" font-size="9.40" font-weight="bold" fill="#111" stroke="#111" stroke-width="0.2">T</text>
<line x1="438.5" y1="273" x2="438.5" y2="275.6" stroke="#303030" stroke-width="1.1"/>
<text transform="translate(436.25 284.47) scale(0.900 1)" font-size="9.40" font-weight="bold" fill="#111" stroke="#111" stroke-width="0.2">N</text>
<line x1="470.5" y1="273" x2="470.5" y2="275.6" stroke="#303030" stroke-width="1.1"/>
<text transform="translate(468.52 284.56) scale(0.900 1)" font-size="9.40" font-weight="bold" fill="#111" stroke="#111" stroke-width="0.2">S</text>
<line x1="503" y1="273" x2="503" y2="275.6" stroke="#303030" stroke-width="1.1"/>
<text transform="translate(500.28 284.47) scale(0.900 1)" font-size="9.40" font-weight="bold" fill="#111" stroke="#111" stroke-width="0.2">M</text>
<line x1="405.9" y1="186.3" x2="405.9" y2="203.6" stroke="#303030" stroke-width="1.1"/>
<line x1="404.1" y1="186.3" x2="407.7" y2="186.3" stroke="#303030" stroke-width="1.1"/>
<line x1="404.1" y1="203.6" x2="407.7" y2="203.6" stroke="#303030" stroke-width="1.1"/>
<rect x="404.15" y="193.35" width="3.5" height="3.5" fill="#0a0a0a"/>
<line x1="438.7" y1="210.8" x2="438.7" y2="225.8" stroke="#303030" stroke-width="1.1"/>
<line x1="436.9" y1="210.8" x2="440.5" y2="210.8" stroke="#303030" stroke-width="1.1"/>
<line x1="436.9" y1="225.8" x2="440.5" y2="225.8" stroke="#303030" stroke-width="1.1"/>
<rect x="436.95" y="216.45" width="3.5" height="3.5" fill="#0a0a0a"/>
<line x1="470.5" y1="210.5" x2="470.5" y2="220.5" stroke="#303030" stroke-width="1.1"/>
<line x1="468.7" y1="210.5" x2="472.3" y2="210.5" stroke="#303030" stroke-width="1.1"/>
<line x1="468.7" y1="220.5" x2="472.3" y2="220.5" stroke="#303030" stroke-width="1.1"/>
<rect x="468.75" y="213.65" width="3.5" height="3.5" fill="#0a0a0a"/>
<line x1="502.9" y1="227.8" x2="502.9" y2="237.8" stroke="#303030" stroke-width="1.1"/>
<line x1="501.1" y1="227.8" x2="504.7" y2="227.8" stroke="#303030" stroke-width="1.1"/>
<line x1="501.1" y1="237.8" x2="504.7" y2="237.8" stroke="#303030" stroke-width="1.1"/>
<rect x="501.15" y="231.45" width="3.5" height="3.5" fill="#0a0a0a"/>
<line x1="406.4" y1="181.2" x2="437.1" y2="181.2" stroke="#303030" stroke-width="1.2"/>
<line x1="406.4" y1="178.8" x2="406.4" y2="183.6" stroke="#303030" stroke-width="1.2"/>
<line x1="437.1" y1="178.8" x2="437.1" y2="183.6" stroke="#303030" stroke-width="1.2"/>
<path d="M422.10,175.00 L422.86,176.54 L424.57,176.79 L423.34,178.00 L423.63,179.70 L422.10,178.90 L420.57,179.70 L420.86,178.00 L419.63,176.79 L421.34,176.54Z" fill="#111"/>
<line x1="472.2" y1="205.5" x2="504.9" y2="205.5" stroke="#303030" stroke-width="1.2"/>
<line x1="472.2" y1="203.1" x2="472.2" y2="207.9" stroke="#303030" stroke-width="1.2"/>
<line x1="504.9" y1="203.1" x2="504.9" y2="207.9" stroke="#303030" stroke-width="1.2"/>
<path d="M488.30,199.30 L489.06,200.84 L490.77,201.09 L489.54,202.30 L489.83,204.00 L488.30,203.20 L486.77,204.00 L487.06,202.30 L485.83,201.09 L487.54,200.84Z" fill="#111"/>
<text transform="translate(-0.25 313.71) scale(0.956 1)" font-size="19.07" font-weight="bold" fill="#000" stroke="#000" stroke-width="0.5">G</text>
<text transform="translate(48.8 309.1) scale(0.896 1)" font-size="11.18" font-weight="normal" fill="#151515" stroke="#151515" stroke-width="0.15">GRAVY index</text>
<line x1="22.8" y1="328.3" x2="22.8" y2="337.4" stroke="#303030" stroke-width="1.25"/>
<line x1="22.8" y1="348.5" x2="22.8" y2="424.9" stroke="#303030" stroke-width="1.25"/>
<line x1="20.6" y1="337.4" x2="24.4" y2="337.4" stroke="#303030" stroke-width="1.1"/>
<line x1="20.6" y1="348.5" x2="24.4" y2="348.5" stroke="#303030" stroke-width="1.1"/>
<line x1="20.6" y1="328.3" x2="22.8" y2="328.3" stroke="#303030" stroke-width="1.1"/>
<text transform="translate(4.51 331.13) scale(0.970 1)" font-size="8.10" fill="#222" stroke="#222" stroke-width="0.2">0.00</text>
<line x1="20.6" y1="337.4" x2="22.8" y2="337.4" stroke="#303030" stroke-width="1.1"/>
<text transform="translate(1.92 340.23) scale(0.970 1)" font-size="8.10" fill="#222" stroke="#222" stroke-width="0.2">-0.25</text>
<line x1="20.6" y1="348.5" x2="22.8" y2="348.5" stroke="#303030" stroke-width="1.1"/>
<text transform="translate(1.92 351.33) scale(0.970 1)" font-size="8.10" fill="#222" stroke="#222" stroke-width="0.2">-0.35</text>
<line x1="20.6" y1="373.97" x2="22.8" y2="373.97" stroke="#303030" stroke-width="1.1"/>
<text transform="translate(1.92 376.79) scale(0.970 1)" font-size="8.10" fill="#222" stroke="#222" stroke-width="0.2">-0.45</text>
<line x1="20.6" y1="399.43" x2="22.8" y2="399.43" stroke="#303030" stroke-width="1.1"/>
<text transform="translate(1.92 402.26) scale(0.970 1)" font-size="8.10" fill="#222" stroke="#222" stroke-width="0.2">-0.55</text>
<line x1="20.6" y1="424.9" x2="22.8" y2="424.9" stroke="#303030" stroke-width="1.1"/>
<text transform="translate(1.92 427.73) scale(0.970 1)" font-size="8.10" fill="#222" stroke="#222" stroke-width="0.2">-0.65</text>
<line x1="20.6" y1="424.9" x2="146.2" y2="424.9" stroke="#303030" stroke-width="1.4"/>
<line x1="38.5" y1="424.9" x2="38.5" y2="427.5" stroke="#303030" stroke-width="1.1"/>
<text transform="translate(36.71 436.37) scale(0.900 1)" font-size="9.40" font-weight="bold" fill="#111" stroke="#111" stroke-width="0.2">T</text>
<line x1="69.5" y1="424.9" x2="69.5" y2="427.5" stroke="#303030" stroke-width="1.1"/>
<text transform="translate(67.25 436.37) scale(0.900 1)" font-size="9.40" font-weight="bold" fill="#111" stroke="#111" stroke-width="0.2">N</text>
<line x1="100.6" y1="424.9" x2="100.6" y2="427.5" stroke="#303030" stroke-width="1.1"/>
<text transform="translate(98.62 436.46) scale(0.900 1)" font-size="9.40" font-weight="bold" fill="#111" stroke="#111" stroke-width="0.2">S</text>
<line x1="131.4" y1="424.9" x2="131.4" y2="427.5" stroke="#303030" stroke-width="1.1"/>
<text transform="translate(128.68 436.37) scale(0.900 1)" font-size="9.40" font-weight="bold" fill="#111" stroke="#111" stroke-width="0.2">M</text>
<line x1="38.4" y1="366.5" x2="38.4" y2="382.6" stroke="#303030" stroke-width="1.1"/>
<line x1="36.6" y1="366.5" x2="40.2" y2="366.5" stroke="#303030" stroke-width="1.1"/>
<line x1="36.6" y1="382.6" x2="40.2" y2="382.6" stroke="#303030" stroke-width="1.1"/>
<rect x="36.65" y="372.55" width="3.5" height="3.5" fill="#0a0a0a"/>
<line x1="69.5" y1="384.2" x2="69.5" y2="396.5" stroke="#303030" stroke-width="1.1"/>
<line x1="67.7" y1="384.2" x2="71.3" y2="384.2" stroke="#303030" stroke-width="1.1"/>
<line x1="67.7" y1="396.5" x2="71.3" y2="396.5" stroke="#303030" stroke-width="1.1"/>
<rect x="67.75" y="388.75" width="3.5" height="3.5" fill="#0a0a0a"/>
<line x1="100.7" y1="396.5" x2="100.7" y2="405.5" stroke="#303030" stroke-width="1.1"/>
<line x1="98.9" y1="396.5" x2="102.5" y2="396.5" stroke="#303030" stroke-width="1.1"/>
<line x1="98.9" y1="405.5" x2="102.5" y2="405.5" stroke="#303030" stroke-width="1.1"/>
<rect x="98.95" y="399.15" width="3.5" height="3.5" fill="#0a0a0a"/>
<line x1="131.9" y1="408.5" x2="131.9" y2="417.2" stroke="#303030" stroke-width="1.1"/>
<line x1="130.1" y1="408.5" x2="133.7" y2="408.5" stroke="#303030" stroke-width="1.1"/>
<line x1="130.1" y1="417.2" x2="133.7" y2="417.2" stroke="#303030" stroke-width="1.1"/>
<rect x="130.15" y="410.85" width="3.5" height="3.5" fill="#0a0a0a"/>
<line x1="37.7" y1="340.8" x2="133.5" y2="340.8" stroke="#303030" stroke-width="1.2"/>
<line x1="37.7" y1="338.4" x2="37.7" y2="343.2" stroke="#303030" stroke-width="1.2"/>
<line x1="133.5" y1="338.4" x2="133.5" y2="343.2" stroke="#303030" stroke-width="1.2"/>
<path d="M82.05,334.60 L82.81,336.14 L84.52,336.39 L83.29,337.60 L83.58,339.30 L82.05,338.50 L80.52,339.30 L80.81,337.60 L79.58,336.39 L81.29,336.14ZM86.95,334.60 L87.71,336.14 L89.42,336.39 L88.19,337.60 L88.48,339.30 L86.95,338.50 L85.42,339.30 L85.71,337.60 L84.48,336.39 L86.19,336.14Z" fill="#111"/>
<line x1="37.7" y1="351.9" x2="101.4" y2="351.9" stroke="#303030" stroke-width="1.2"/>
<line x1="37.7" y1="349.5" x2="37.7" y2="354.3" stroke="#303030" stroke-width="1.2"/>
<line x1="101.4" y1="349.5" x2="101.4" y2="354.3" stroke="#303030" stroke-width="1.2"/>
<path d="M71.40,345.70 L72.16,347.24 L73.87,347.49 L72.64,348.70 L72.93,350.40 L71.40,349.60 L69.87,350.40 L70.16,348.70 L68.93,347.49 L70.64,347.24Z" fill="#111"/>
<line x1="69.5" y1="362.3" x2="133.5" y2="362.3" stroke="#303030" stroke-width="1.2"/>
<line x1="69.5" y1="359.9" x2="69.5" y2="364.7" stroke="#303030" stroke-width="1.2"/>
<line x1="133.5" y1="359.9" x2="133.5" y2="364.7" stroke="#303030" stroke-width="1.2"/>
<path d="M100.70,356.10 L101.46,357.64 L103.17,357.89 L101.94,359.10 L102.23,360.80 L100.70,360.00 L99.17,360.80 L99.46,359.10 L98.23,357.89 L99.94,357.64Z" fill="#111"/>
<text transform="translate(173.5 313.2) scale(1.018 1)" font-size="19.04" font-weight="bold" fill="#000" stroke="#000" stroke-width="0.5">H</text>
<text transform="translate(194.01 309) scale(0.969 1)" font-size="11.18" font-weight="normal" fill="#151515" stroke="#151515" stroke-width="0.15">Negatively charged amino acids</text>
<text transform="translate(180.8 420.5) rotate(-90) scale(1.026 1)" font-size="7.73" font-weight="bold" fill="#1e1e1e" stroke="#1e1e1e" stroke-width="0.3">% of CDR3 amino acids</text>
<line x1="197.6" y1="328.3" x2="197.6" y2="397.7" stroke="#303030" stroke-width="1.25"/>
<line x1="197.6" y1="411.5" x2="197.6" y2="424.8" stroke="#303030" stroke-width="1.25"/>
<line x1="195.4" y1="397.7" x2="199.2" y2="397.7" stroke="#303030" stroke-width="1.1"/>
<line x1="195.4" y1="411.5" x2="199.2" y2="411.5" stroke="#303030" stroke-width="1.1"/>
<line x1="195.4" y1="328.3" x2="197.6" y2="328.3" stroke="#303030" stroke-width="1.1"/>
<g transform="translate(186.01 331.55) scale(0.810 1)"><text font-size="9.45" fill="#222" stroke="#222" stroke-width="0.2">14</text><g fill="#fff"><rect x="0" y="-1.05" width="2.33" height="1.75"/><rect x="3.25" y="-1.05" width="1.85" height="1.75"/></g></g>
<line x1="195.4" y1="351.43" x2="197.6" y2="351.43" stroke="#303030" stroke-width="1.1"/>
<g transform="translate(186.12 354.73) scale(0.810 1)"><text font-size="9.45" fill="#222" stroke="#222" stroke-width="0.2">13</text><g fill="#fff"><rect x="0" y="-1.05" width="2.33" height="1.75"/><rect x="3.25" y="-1.05" width="1.85" height="1.75"/></g></g>
<line x1="195.4" y1="374.57" x2="197.6" y2="374.57" stroke="#303030" stroke-width="1.1"/>
<g transform="translate(186.17 377.87) scale(0.810 1)"><text font-size="9.45" fill="#222" stroke="#222" stroke-width="0.2">12</text><g fill="#fff"><rect x="0" y="-1.05" width="2.33" height="1.75"/><rect x="3.25" y="-1.05" width="1.85" height="1.75"/></g></g>
<line x1="195.4" y1="397.7" x2="197.6" y2="397.7" stroke="#303030" stroke-width="1.1"/>
<g transform="translate(186.16 400.95) scale(0.810 1)"><text font-size="9.45" fill="#222" stroke="#222" stroke-width="0.2">11</text><g fill="#fff"><rect x="0" y="-1.05" width="2.33" height="1.75"/><rect x="3.25" y="-1.05" width="1.85" height="1.75"/><rect x="5.25" y="-1.05" width="2.33" height="1.75"/><rect x="8.5" y="-1.05" width="1.85" height="1.75"/></g></g>
<line x1="195.4" y1="411.5" x2="197.6" y2="411.5" stroke="#303030" stroke-width="1.1"/>
<g transform="translate(186.08 414.8) scale(0.810 1)"><text font-size="9.45" fill="#222" stroke="#222" stroke-width="0.2">10</text><g fill="#fff"><rect x="0" y="-1.05" width="2.33" height="1.75"/><rect x="3.25" y="-1.05" width="1.85" height="1.75"/></g></g>
<line x1="195.4" y1="424.8" x2="197.6" y2="424.8" stroke="#303030" stroke-width="1.1"/>
<text transform="translate(190.34 428.1) scale(0.810 1)" font-size="9.45" fill="#222" stroke="#222" stroke-width="0.2">0</text>
<line x1="195.4" y1="424.8" x2="329.4" y2="424.8" stroke="#303030" stroke-width="1.4"/>
<line x1="214.25" y1="424.8" x2="214.25" y2="427.4" stroke="#303030" stroke-width="1.1"/>
<text transform="translate(212.46 436.27) scale(0.900 1)" font-size="9.40" font-weight="bold" fill="#111" stroke="#111" stroke-width="0.2">T</text>
<line x1="246.9" y1="424.8" x2="246.9" y2="427.4" stroke="#303030" stroke-width="1.1"/>
<text transform="translate(244.65 436.27) scale(0.900 1)" font-size="9.40" font-weight="bold" fill="#111" stroke="#111" stroke-width="0.2">N</text>
<line x1="279.75" y1="424.8" x2="279.75" y2="427.4" stroke="#303030" stroke-width="1.1"/>
<text transform="translate(277.77 436.36) scale(0.900 1)" font-size="9.40" font-weight="bold" fill="#111" stroke="#111" stroke-width="0.2">S</text>
<line x1="312.8" y1="424.8" x2="312.8" y2="427.4" stroke="#303030" stroke-width="1.1"/>
<text transform="translate(310.08 436.27) scale(0.900 1)" font-size="9.40" font-weight="bold" fill="#111" stroke="#111" stroke-width="0.2">M</text>
<line x1="213.9" y1="358" x2="213.9" y2="372.3" stroke="#303030" stroke-width="1.1"/>
<line x1="212.1" y1="358" x2="215.7" y2="358" stroke="#303030" stroke-width="1.1"/>
<line x1="212.1" y1="372.3" x2="215.7" y2="372.3" stroke="#303030" stroke-width="1.1"/>
<rect x="212.15" y="363.65" width="3.5" height="3.5" fill="#0a0a0a"/>
<line x1="246.7" y1="359.6" x2="246.7" y2="371.2" stroke="#303030" stroke-width="1.1"/>
<line x1="244.9" y1="359.6" x2="248.5" y2="359.6" stroke="#303030" stroke-width="1.1"/>
<line x1="244.9" y1="371.2" x2="248.5" y2="371.2" stroke="#303030" stroke-width="1.1"/>
<rect x="244.95" y="363.65" width="3.5" height="3.5" fill="#0a0a0a"/>
<line x1="279.7" y1="346.9" x2="279.7" y2="356.2" stroke="#303030" stroke-width="1.1"/>
<line x1="277.9" y1="346.9" x2="281.5" y2="346.9" stroke="#303030" stroke-width="1.1"/>
<line x1="277.9" y1="356.2" x2="281.5" y2="356.2" stroke="#303030" stroke-width="1.1"/>
<rect x="277.95" y="349.75" width="3.5" height="3.5" fill="#0a0a0a"/>
<line x1="312.5" y1="366.5" x2="312.5" y2="374.6" stroke="#303030" stroke-width="1.1"/>
<line x1="310.7" y1="366.5" x2="314.3" y2="366.5" stroke="#303030" stroke-width="1.1"/>
<line x1="310.7" y1="374.6" x2="314.3" y2="374.6" stroke="#303030" stroke-width="1.1"/>
<rect x="310.75" y="368.95" width="3.5" height="3.5" fill="#0a0a0a"/>
<line x1="280.2" y1="339.6" x2="312.5" y2="339.6" stroke="#303030" stroke-width="1.2"/>
<line x1="280.2" y1="337.2" x2="280.2" y2="342" stroke="#303030" stroke-width="1.2"/>
<line x1="312.5" y1="337.2" x2="312.5" y2="342" stroke="#303030" stroke-width="1.2"/>
<path d="M292.95,331.50 L293.71,333.04 L295.42,333.29 L294.19,334.50 L294.48,336.20 L292.95,335.40 L291.42,336.20 L291.71,334.50 L290.48,333.29 L292.19,333.04ZM298.25,331.50 L299.01,333.04 L300.72,333.29 L299.49,334.50 L299.78,336.20 L298.25,335.40 L296.72,336.20 L297.01,334.50 L295.78,333.29 L297.49,333.04Z" fill="#111"/>
<text transform="translate(365.91 314) scale(1.158 1)" font-size="19.19" font-weight="bold" fill="#000" stroke="#000" stroke-width="0.5">I</text>
<text transform="translate(429.07 308.4) scale(0.998 1)" font-size="10.35" font-weight="normal" fill="#151515" stroke="#151515" stroke-width="0.15">Tyrosine</text>
<text transform="translate(372.9 419.09) rotate(-90) scale(0.959 1)" font-size="8.14" font-weight="bold" fill="#1e1e1e" stroke="#1e1e1e" stroke-width="0.3">% of CDR3 amino acids</text>
<line x1="389.6" y1="327.2" x2="389.6" y2="401.8" stroke="#303030" stroke-width="1.25"/>
<line x1="389.6" y1="413.1" x2="389.6" y2="424.4" stroke="#303030" stroke-width="1.25"/>
<line x1="387.4" y1="401.8" x2="391.2" y2="401.8" stroke="#303030" stroke-width="1.1"/>
<line x1="387.4" y1="413.1" x2="391.2" y2="413.1" stroke="#303030" stroke-width="1.1"/>
<line x1="387.4" y1="327.2" x2="389.6" y2="327.2" stroke="#303030" stroke-width="1.1"/>
<g transform="translate(377.69 330.59) scale(0.830 1)"><text font-size="9.70" fill="#222" stroke="#222" stroke-width="0.2">18</text><g fill="#fff"><rect x="0" y="-1.07" width="2.4" height="1.77"/><rect x="3.34" y="-1.07" width="1.9" height="1.77"/></g></g>
<line x1="387.4" y1="345.85" x2="389.6" y2="345.85" stroke="#303030" stroke-width="1.1"/>
<g transform="translate(377.7 349.24) scale(0.830 1)"><text font-size="9.70" fill="#222" stroke="#222" stroke-width="0.2">16</text><g fill="#fff"><rect x="0" y="-1.07" width="2.4" height="1.77"/><rect x="3.34" y="-1.07" width="1.9" height="1.77"/></g></g>
<line x1="387.4" y1="364.5" x2="389.6" y2="364.5" stroke="#303030" stroke-width="1.1"/>
<g transform="translate(377.58 367.84) scale(0.830 1)"><text font-size="9.70" fill="#222" stroke="#222" stroke-width="0.2">14</text><g fill="#fff"><rect x="0" y="-1.07" width="2.4" height="1.77"/><rect x="3.34" y="-1.07" width="1.9" height="1.77"/></g></g>
<line x1="387.4" y1="383.15" x2="389.6" y2="383.15" stroke="#303030" stroke-width="1.1"/>
<g transform="translate(377.75 386.54) scale(0.830 1)"><text font-size="9.70" fill="#222" stroke="#222" stroke-width="0.2">12</text><g fill="#fff"><rect x="0" y="-1.07" width="2.4" height="1.77"/><rect x="3.34" y="-1.07" width="1.9" height="1.77"/></g></g>
<line x1="387.4" y1="401.8" x2="389.6" y2="401.8" stroke="#303030" stroke-width="1.1"/>
<g transform="translate(377.66 405.19) scale(0.830 1)"><text font-size="9.70" fill="#222" stroke="#222" stroke-width="0.2">10</text><g fill="#fff"><rect x="0" y="-1.07" width="2.4" height="1.77"/><rect x="3.34" y="-1.07" width="1.9" height="1.77"/></g></g>
<line x1="387.4" y1="413.1" x2="389.6" y2="413.1" stroke="#303030" stroke-width="1.1"/>
<text transform="translate(382.2 416.49) scale(0.830 1)" font-size="9.70" fill="#222" stroke="#222" stroke-width="0.2">9</text>
<line x1="387.4" y1="424.4" x2="389.6" y2="424.4" stroke="#303030" stroke-width="1.1"/>
<text transform="translate(382.14 427.79) scale(0.830 1)" font-size="9.70" fill="#222" stroke="#222" stroke-width="0.2">0</text>
<line x1="387.4" y1="424.4" x2="519" y2="424.4" stroke="#303030" stroke-width="1.4"/>
<line x1="405.5" y1="424.4" x2="405.5" y2="427" stroke="#303030" stroke-width="1.1"/>
<text transform="translate(403.71 435.87) scale(0.900 1)" font-size="9.40" font-weight="bold" fill="#111" stroke="#111" stroke-width="0.2">T</text>
<line x1="438" y1="424.4" x2="438" y2="427" stroke="#303030" stroke-width="1.1"/>
<text transform="translate(435.75 435.87) scale(0.900 1)" font-size="9.40" font-weight="bold" fill="#111" stroke="#111" stroke-width="0.2">N</text>
<line x1="470.5" y1="424.4" x2="470.5" y2="427" stroke="#303030" stroke-width="1.1"/>
<text transform="translate(468.52 435.96) scale(0.900 1)" font-size="9.40" font-weight="bold" fill="#111" stroke="#111" stroke-width="0.2">S</text>
<line x1="503" y1="424.4" x2="503" y2="427" stroke="#303030" stroke-width="1.1"/>
<text transform="translate(500.28 435.87) scale(0.900 1)" font-size="9.40" font-weight="bold" fill="#111" stroke="#111" stroke-width="0.2">M</text>
<line x1="405.2" y1="367.7" x2="405.2" y2="376.2" stroke="#303030" stroke-width="1.1"/>
<line x1="403.4" y1="367.7" x2="407" y2="367.7" stroke="#303030" stroke-width="1.1"/>
<line x1="403.4" y1="376.2" x2="407" y2="376.2" stroke="#303030" stroke-width="1.1"/>
<rect x="403.45" y="370.55" width="3.5" height="3.5" fill="#0a0a0a"/>
<line x1="438" y1="360.8" x2="438" y2="367.7" stroke="#303030" stroke-width="1.1"/>
<line x1="436.2" y1="360.8" x2="439.8" y2="360.8" stroke="#303030" stroke-width="1.1"/>
<line x1="436.2" y1="367.7" x2="439.8" y2="367.7" stroke="#303030" stroke-width="1.1"/>
<rect x="436.25" y="362.95" width="3.5" height="3.5" fill="#0a0a0a"/>
<rect x="468.6" y="393.1" width="3.4" height="5.1" fill="#0a0a0a"/>
<rect x="500.9" y="373.5" width="3.4" height="5.7" fill="#0a0a0a"/>
<line x1="421.8" y1="334.7" x2="470.5" y2="334.7" stroke="#303030" stroke-width="1.2"/>
<line x1="421.8" y1="332.3" x2="421.8" y2="337.1" stroke="#303030" stroke-width="1.2"/>
<line x1="470.5" y1="332.3" x2="470.5" y2="337.1" stroke="#303030" stroke-width="1.2"/>
<path d="M441.40,328.50 L442.16,330.04 L443.87,330.29 L442.64,331.50 L442.93,333.20 L441.40,332.40 L439.87,333.20 L440.16,331.50 L438.93,330.29 L440.64,330.04ZM446.30,328.50 L447.06,330.04 L448.77,330.29 L447.54,331.50 L447.83,333.20 L446.30,332.40 L444.77,333.20 L445.06,331.50 L443.83,330.29 L445.54,330.04ZM451.20,328.50 L451.96,330.04 L453.67,330.29 L452.44,331.50 L452.73,333.20 L451.20,332.40 L449.67,333.20 L449.96,331.50 L448.73,330.29 L450.44,330.04Z" fill="#111"/>
<path d="M405.2 343.1V340.7H438.2V343.1" fill="none" stroke="#303030" stroke-width="1.2"/>
<line x1="470.5" y1="344.2" x2="503.3" y2="344.2" stroke="#303030" stroke-width="1.2"/>
<line x1="470.5" y1="341.8" x2="470.5" y2="346.6" stroke="#303030" stroke-width="1.2"/>
<line x1="503.3" y1="341.8" x2="503.3" y2="346.6" stroke="#303030" stroke-width="1.2"/>
<path d="M481.80,338.00 L482.56,339.54 L484.27,339.79 L483.04,341.00 L483.33,342.70 L481.80,341.90 L480.27,342.70 L480.56,341.00 L479.33,339.79 L481.04,339.54ZM486.70,338.00 L487.46,339.54 L489.17,339.79 L487.94,341.00 L488.23,342.70 L486.70,341.90 L485.17,342.70 L485.46,341.00 L484.23,339.79 L485.94,339.54ZM491.60,338.00 L492.36,339.54 L494.07,339.79 L492.84,341.00 L493.13,342.70 L491.60,341.90 L490.07,342.70 L490.36,341.00 L489.13,339.79 L490.84,339.54Z" fill="#111"/>
<line x1="437.5" y1="355.5" x2="503.3" y2="355.5" stroke="#303030" stroke-width="1.2"/>
<line x1="437.5" y1="353.1" x2="437.5" y2="357.9" stroke="#303030" stroke-width="1.2"/>
<line x1="503.3" y1="353.1" x2="503.3" y2="357.9" stroke="#303030" stroke-width="1.2"/>
<path d="M468.70,349.30 L469.46,350.84 L471.17,351.09 L469.94,352.30 L470.23,354.00 L468.70,353.20 L467.17,354.00 L467.46,352.30 L466.23,351.09 L467.94,350.84Z" fill="#111"/>
</svg>
</body></html>
